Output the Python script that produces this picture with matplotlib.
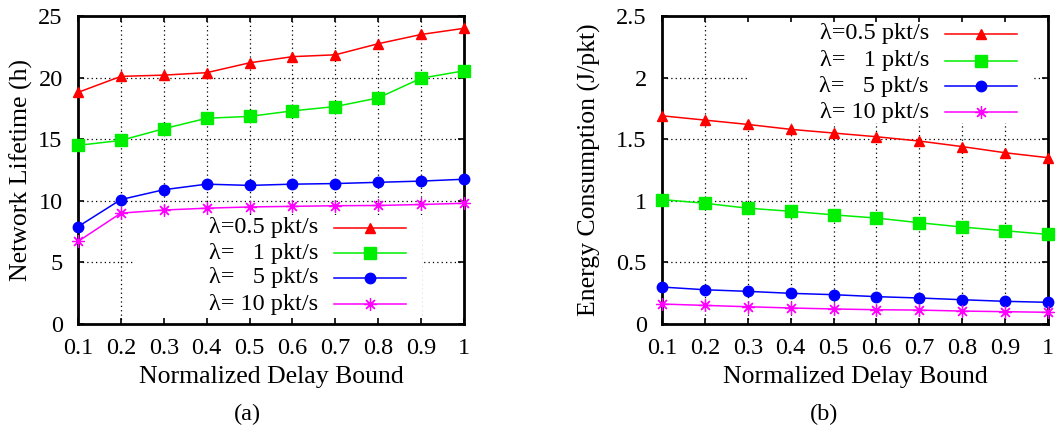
import numpy as np
import matplotlib
matplotlib.use("Agg")
from matplotlib import pyplot as plt
from matplotlib.lines import Line2D
from matplotlib.patches import Rectangle
from matplotlib.ticker import FormatStrFormatter

plt.rcParams['font.family'] = ['Liberation Serif', 'DejaVu Serif']
plt.rcParams['font.size'] = 17.5

delay = [0.1, 0.2, 0.3, 0.4, 0.5, 0.6, 0.7, 0.8, 0.9, 1.0]
labels = ["\u03bb=0.5 pkt/s", "\u03bb=   1 pkt/s", "\u03bb=   5 pkt/s", "\u03bb= 10 pkt/s"]

# network lifetime (h)
life_05 = [18.8, 20.1, 20.2, 20.4, 21.2, 21.7, 21.85, 22.75, 23.5, 24.0]
life_1 = [14.5, 14.9, 15.85, 16.7, 16.85, 17.3, 17.65, 18.35, 19.95, 20.55]
life_5 = [7.9, 10.1, 10.9, 11.35, 11.25, 11.35, 11.4, 11.5, 11.6, 11.75]
life_10 = [6.7, 9.0, 9.25, 9.4, 9.5, 9.55, 9.6, 9.62, 9.7, 9.8]

# energy consumption (J/pkt)
en_05 = [1.69, 1.655, 1.62, 1.58, 1.55, 1.52, 1.485, 1.44, 1.39, 1.35]
en_1 = [1.01, 0.98, 0.94, 0.915, 0.886, 0.86, 0.822, 0.787, 0.757, 0.727]
en_5 = [0.30, 0.278, 0.265, 0.249, 0.238, 0.222, 0.211, 0.197, 0.184, 0.176]
en_10 = [0.162, 0.151, 0.14, 0.13, 0.122, 0.116, 0.113, 0.105, 0.10, 0.095]

colors = ['#ff0000', '#00ee00', '#0000ff', '#ff00ff']
markers = ['^', 's', 'o', (8, 2, 0)]
msizes = [7.5, 9, 7.5, 9]
medges = [1.0, 1.0, 1.0, 0.9]

W, H = 1059, 430
fig = plt.figure(figsize=(W / 100, H / 100), dpi=100)

def px_axes(x0, x1, y0, y1):
    return fig.add_axes([x0 / W, 1 - y1 / H, (x1 - x0) / W, (y1 - y0) / H])

def draw_panel(ax, series, ymax, ystep, box, key):
    ax.set_xlim(0.1, 1.0)
    ax.set_ylim(0, ymax)
    xt = delay
    yt = np.arange(0, ymax + ystep / 2, ystep)
    ax.set_xticks(xt)
    ax.set_yticks(yt)
    ax.xaxis.set_major_formatter(FormatStrFormatter('%g'))
    ax.yaxis.set_major_formatter(FormatStrFormatter('%g'))
    ax.tick_params(direction='in', length=4, width=1.2, top=True, right=True)
    ax.tick_params(axis='x', pad=10)
    ax.tick_params(axis='y', pad=11)
    for s in ax.spines.values():
        s.set_linewidth(2.0)
    # dotted grid, kept under the key's white box
    for v in xt[1:-1]:
        ax.axvline(v, color='k', lw=0.9, ls=(0, (1, 2.5)), zorder=0.5)
    for v in yt[1:-1]:
        ax.axhline(v, color='k', lw=0.9, ls=(0, (1, 2.5)), zorder=0.5)
    bx0, by0, bx1, by1 = box
    ax.add_patch(Rectangle((bx0, by0), bx1 - bx0, by1 - by0, transform=ax.transAxes,
                           facecolor='white', edgecolor='none', zorder=1))
    for y, c, m, ms, mw in zip(series, colors, markers, msizes, medges):
        ax.plot(delay, y, color=c, lw=1.1, marker=m, ms=ms, mew=mw,
                zorder=3, clip_on=False)
    tx, lx0, lx1, rows = key
    for lab, c, m, ms, mw, ry in zip(labels, colors, markers, msizes, medges, rows):
        ax.text(tx, ry, lab, transform=ax.transAxes, ha='right', va='center',
                fontsize=17.5, zorder=4)
        ax.add_line(Line2D([lx0, lx1], [ry, ry], transform=ax.transAxes,
                           color=c, lw=1.1, zorder=4))
        ax.add_line(Line2D([(lx0 + lx1) / 2], [ry], transform=ax.transAxes,
                           color=c, marker=m, ms=ms, mew=mw, zorder=4))

ax1 = px_axes(78, 464, 16, 324)
draw_panel(ax1, [life_05, life_1, life_5, life_10], 25, 5,
           (0.1425, 0.0, 0.891, 0.354),
           (0.6218, 0.663, 0.850, [0.3117, 0.2305, 0.1494, 0.0649]))

ax2 = px_axes(662, 1048, 16, 324)
draw_panel(ax2, [en_05, en_1, en_5, en_10], 2.5, 0.5,
           (0.2202, 0.6526, 0.9585, 1.0),
           (0.6917, 0.733, 0.920, [0.9416, 0.8539, 0.7727, 0.6883]))

fig.text(21 / W, 1 - 170 / H, "Network Lifetime (h)", rotation=90,
         ha='center', va='center', fontsize=18.5)
fig.text(589 / W, 1 - 170 / H, "Energy Consumption (J/pkt)", rotation=90,
         ha='center', va='center', fontsize=18.5)
fig.text(271 / W, 1 - 377 / H, "Normalized Delay Bound", ha='center', va='center', fontsize=18.5)
fig.text(855 / W, 1 - 377 / H, "Normalized Delay Bound", ha='center', va='center', fontsize=18.5)
fig.text(247 / W, 1 - 414 / H, "(a)", ha='center', va='center', fontsize=17.5)
fig.text(824 / W, 1 - 414 / H, "(b)", ha='center', va='center', fontsize=17.5)

fig.savefig("out.png", dpi=100)
